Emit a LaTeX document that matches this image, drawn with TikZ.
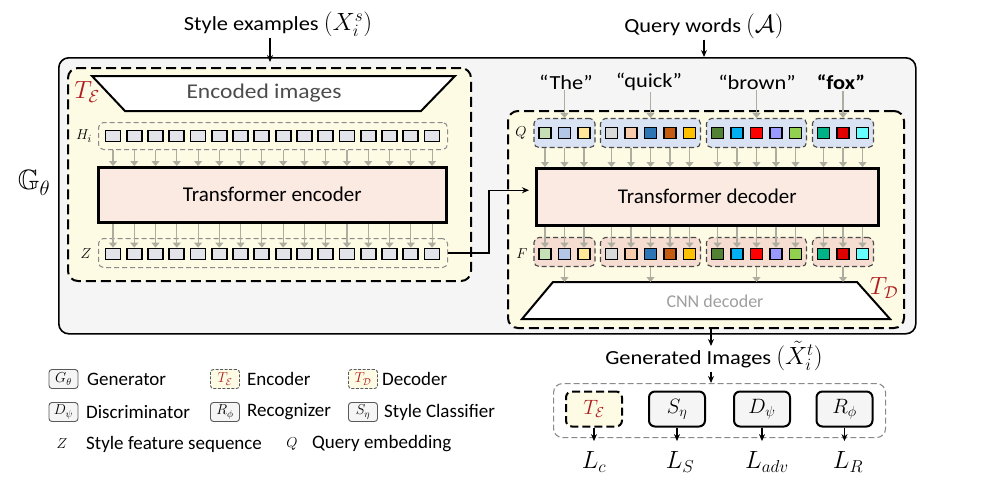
\documentclass[tikz,border=0pt]{standalone}
\usepackage{amsmath,amssymb}
\usepackage{fontspec}
\setmainfont{Carlito}
\newfontfamily\widefont{Carlito}[FakeStretch=1.12]
\usetikzlibrary{arrows.meta,calc}
\definecolor{ybg}{HTML}{FDFBE4}
\definecolor{pinkbg}{HTML}{FBEAE2}
\definecolor{sqbg}{HTML}{E3E3EA}
\definecolor{qbg}{HTML}{DAE3F3}
\definecolor{fbg}{HTML}{F6DDD2}
\definecolor{arrowgray}{HTML}{ADADA0}
\definecolor{grpgray}{HTML}{8A8A8A}
\definecolor{grpdark}{HTML}{4A4A4A}
\definecolor{redlab}{HTML}{B01C1C}
\definecolor{outerbg}{HTML}{F5F5F5}
\definecolor{c1}{HTML}{C5E0B4}
\definecolor{c2}{HTML}{B4C7E7}
\definecolor{c3}{HTML}{FFE699}
\definecolor{c4}{HTML}{D9D9D9}
\definecolor{c5}{HTML}{F8CBAD}
\definecolor{c6}{HTML}{2E75B6}
\definecolor{c7}{HTML}{C55A11}
\definecolor{c8}{HTML}{FFC000}
\definecolor{c9}{HTML}{548235}
\definecolor{c10}{HTML}{00B0F0}
\definecolor{c11}{HTML}{FF0000}
\definecolor{c12}{HTML}{9999FF}
\definecolor{c13}{HTML}{92D050}
\definecolor{c14}{HTML}{00B386}
\definecolor{c15}{HTML}{E00000}
\definecolor{c16}{HTML}{66FFFF}
\newcommand{\titlemath}[1]{{\fontsize{24}{24}\selectfont$#1$}}
\tikzset{
 blk/.style={draw=black, line width=1.3pt, -{Stealth[length=7pt,width=6pt]}},
 ga/.style={draw=arrowgray, line width=1.1pt, -{Triangle[length=5pt,width=8pt]}},
 tbox/.style={draw=black, line width=2pt, dash pattern=on 10pt off 5pt, rounded corners=10pt, fill=ybg, inner sep=0},
 tfbox/.style={draw=black, line width=2.5pt, fill=pinkbg, inner sep=0, font=\fontsize{21}{22}\selectfont},
 gbox/.style={draw=grpgray, line width=1pt, dash pattern=on 5pt off 3pt, rounded corners=5pt, inner sep=0},
 qgrp/.style={draw=grpdark, line width=1.1pt, dash pattern=on 5pt off 3pt, rounded corners=5pt, fill=qbg, minimum height=29pt, inner sep=0},
 fgrp/.style={qgrp, fill=fbg},
 sqe/.style={draw=black, line width=1.8pt, fill=sqbg, minimum width=15pt, minimum height=11pt, inner sep=0},
 sqc/.style={draw=black, line width=1.8pt, minimum width=12pt, minimum height=11pt, inner sep=0},
 trap/.style={draw=black, line width=2pt, fill=white, line join=miter},
 lgbox/.style={draw=gray!70!black, line width=0.9pt, fill=gray!8, rounded corners=3pt, minimum width=29pt, minimum height=19pt, inner sep=0, font=\fontsize{14}{14}\selectfont},
 lbox/.style={draw=black, line width=2pt, rounded corners=6pt, fill=gray!8, minimum width=56pt, minimum height=35pt, inner sep=0, font=\fontsize{21}{21}\selectfont},
 txt/.style={font=\fontsize{19}{21}\selectfont, inner sep=1pt},
 wtxt/.style={font=\widefont\fontsize{20}{22}\selectfont, inner sep=1pt},
 lossl/.style={font=\fontsize{27}{27}\selectfont, inner sep=1pt},
 smath/.style={font=\fontsize{15}{15}\selectfont, inner sep=1pt},
}
\begin{document}
\begin{tikzpicture}[x=1pt,y=-1pt]
\useasboundingbox (0,0) rectangle (989,501);
\fill[white] (0,0) rectangle (989,501);

% outer generator box
\node[draw=black, line width=1.6pt, rounded corners=10pt, fill=outerbg, minimum width=857pt, minimum height=276pt, inner sep=0, anchor=north west] (G) at (58,57) {};
\node[font=\fontsize{28}{28}\selectfont] (Glab) at (34,183) {$\mathbb{G}_\theta$};

% titles
\node[wtxt] (styleex) at (278,24) {Style examples \titlemath{(X_i^{s})}};
\node[wtxt] (qw) at (704,26) {Query words \titlemath{(\mathcal{A})}};

% encoder
\node[tbox, minimum width=403pt, minimum height=213pt, anchor=north west] (encT) at (67,67) {};
\node[text=redlab, font=\fontsize{25}{25}\selectfont] (TElab) at (87,92) {$T_{\mathcal{E}}$};
\draw[blk] ([xshift=-8pt]styleex.south) -- ([xshift=-8pt,yshift=5pt]styleex.south |- encT.north);
\draw[trap] (92,76) -- (455,76) -- (421,111) -- (125,111) -- cycle;
\node[text=black!70, font=\widefont\fontsize{21}{22}\selectfont] (encimg) at (264,93) {Encoded images};

\node[gbox, minimum width=349pt, minimum height=27pt, anchor=north west] (Hbox) at (98,122) {};
\node[smath] (Hlab) at (84,136) {$H_i$};
\foreach \i in {1,...,16} {
  \node[sqe] (h\i) at ({113+(\i-1)*21.27},136) {};
}
\node[tfbox, minimum width=348pt, minimum height=55pt, anchor=north west] (tenc) at (97,166) {Transformer encoder};
\foreach \i in {1,...,16} {
  \draw[ga] (h\i.south |- Hbox.south) -- (h\i.south |- tenc.north);
}
\node[gbox, minimum width=349pt, minimum height=29pt, anchor=north west] (Zbox) at (98,238) {};
\node[smath] (Zlab) at (86,254) {$Z$};
\foreach \i in {1,...,16} {
  \node[sqe] (z\i) at ({113+(\i-1)*21.27},254) {};
  \draw[ga] (z\i.north |- tenc.south) -- (z\i.north);
}

% decoder
\node[tbox, minimum width=396pt, minimum height=217pt, anchor=north west] (decT) at (507,110) {};
\node[text=redlab, font=\fontsize{25}{25}\selectfont] (TDlab) at (884,288) {$T_{\mathcal{D}}$};
\draw[blk] (qw.south) -- (qw.south |- G.north);

\node[wtxt] (wThe) at (566,82) {“The”};
\node[wtxt] (wquick) at (649,82) {“quick”};
\node[wtxt] (wbrown) at (757,82) {“brown”};
\node[wtxt, font=\widefont\bfseries\fontsize{20}{22}\selectfont] (wfox) at (841,82) {“fox”};

\node[qgrp, minimum width=61pt] (qg1) at (564.5,133) {};
\node[qgrp, minimum width=100pt] (qg2) at (650.5,133) {};
\node[qgrp, minimum width=100pt] (qg3) at (756.5,133) {};
\node[qgrp, minimum width=61pt] (qg4) at (843,133) {};
\node[fgrp, minimum width=61pt] (fg1) at (564.5,252) {};
\node[fgrp, minimum width=100pt] (fg2) at (650.5,252) {};
\node[fgrp, minimum width=100pt] (fg3) at (756.5,252) {};
\node[fgrp, minimum width=61pt] (fg4) at (843,252) {};

\draw[ga] (qg1.north |- wThe.south) -- (qg1.north);
\draw[ga] (qg2.north |- wquick.south) -- (qg2.north);
\draw[ga] (qg3.north |- wbrown.south) -- (qg3.north);
\draw[ga] (qg4.north |- wfox.south) -- (qg4.north);

\node[smath] (Qlab) at (521,133) {$Q$};
\node[smath] (Flab) at (522,254) {$F$};

\node[tfbox, minimum width=342pt, minimum height=57pt, anchor=north west] (tdec) at (535,167) {Transformer decoder};

\foreach \x/\c/\k/\g in {545/c1/1/1, 564.5/c2/2/1, 584/c3/3/1,
  611.5/c4/4/2, 631/c5/5/2, 650.5/c6/6/2, 670/c7/7/2, 689.5/c8/8/2,
  717.5/c9/9/3, 737/c10/10/3, 756.5/c11/11/3, 776/c12/12/3, 795.5/c13/13/3,
  823.5/c14/14/4, 843/c15/15/4, 862.5/c16/16/4} {
  \node[sqc, fill=\c] (q\k) at (\x,133) {};
  \node[sqc, fill=\c] (f\k) at (\x,254) {};
  \draw[ga] (q\k.south |- qg\g.south) -- (q\k.south |- tdec.north);
  \draw[ga] (f\k.north |- tdec.south) -- (f\k.north);
}

\draw[blk] (Zbox.east) -- ++(41,0) |- ([yshift=6.5pt]tdec.west) [shorten >=6pt];

\draw[trap] (553,282) -- (857,282) -- (890,319) -- (522,319) -- cycle;
\coordinate (cnntop) at (700,282);
\node[text=black!38, font=\fontsize{18}{18}\selectfont] (cnn) at (715,301) {CNN decoder};
\foreach \g in {1,...,4} {
  \draw[ga] (fg\g.south) -- (fg\g.south |- cnntop);
}

% generated images & losses
\node[wtxt] (gen) at (714,356) {Generated Images \titlemath{(\tilde{X}_i^{t})}};
\coordinate (genin) at (711,346);
\draw[blk] (genin |- decT.south) -- (genin);
\node[draw=grpgray, line width=1.1pt, dash pattern=on 6pt off 3pt, rounded corners=9pt, fill=white, minimum width=332pt, minimum height=54pt, inner sep=0, anchor=north west] (lossbox) at (553,383) {};
\draw[blk] (genin |- gen.south) -- (genin |- lossbox.north);

\node[lbox, fill=ybg, dash pattern=on 8pt off 4pt, text=redlab] (lTE) at (594,409) {$T_{\mathcal{E}}$};
\node[lbox] (lS) at (677,409) {$S_\eta$};
\node[lbox] (lD) at (762,409) {$D_\psi$};
\node[lbox] (lR) at (844.5,409) {$R_\phi$};
\node[lossl] (Lc) at (594,462) {$L_c$};
\node[lossl] (LS) at (680,462) {$L_S$};
\node[lossl] (Ladv) at (767,462) {$L_{adv}$};
\node[lossl] (LR) at (848,462) {$L_R$};
\draw[blk] (lTE.south) -- ([yshift=-3pt]lTE.south |- lossbox.south);
\draw[blk] (lS.south) -- ([yshift=-3pt]lS.south |- lossbox.south);
\draw[blk] (lD.south) -- ([yshift=-3pt]lD.south |- lossbox.south);
\draw[blk] (lR.south) -- ([yshift=-3pt]lR.south |- lossbox.south);

% legend
\node[lgbox] (lgG) at (63.5,379) {$G_\theta$};
\node[txt, anchor=west] (tG) at (86,379) {Generator};
\node[lgbox, fill=ybg, dash pattern=on 3pt off 1.5pt, text=redlab] (lgTE) at (225,379) {$T_{\mathcal{E}}$};
\node[txt, anchor=west] (tTE) at (246,379) {Encoder};
\node[lgbox, fill=ybg, dash pattern=on 3pt off 1.5pt, text=redlab] (lgTD) at (363,379) {$T_{\mathcal{D}}$};
\node[txt, anchor=west] (tTD) at (381,379) {Decoder};
\node[lgbox] (lgD) at (63.5,412) {$D_\psi$};
\node[txt, anchor=west] (tD) at (85,412) {Discriminator};
\node[lgbox] (lgR) at (225,412) {$R_\phi$};
\node[txt, anchor=west] (tR) at (246,412) {Recognizer};
\node[lgbox] (lgS) at (363,412) {$S_\eta$};
\node[txt, anchor=west] (tS) at (383,412) {Style Classifier};
\node[font=\fontsize{15}{15}\selectfont] (lgZ) at (62,444) {$Z$};
\node[txt, anchor=west] (tZ) at (85,444) {Style feature sequence};
\node[font=\fontsize{15}{15}\selectfont] (lgQ) at (292,444) {$Q$};
\node[txt, anchor=west] (tQ) at (311,444) {Query embedding};
\end{tikzpicture}
\end{document}
